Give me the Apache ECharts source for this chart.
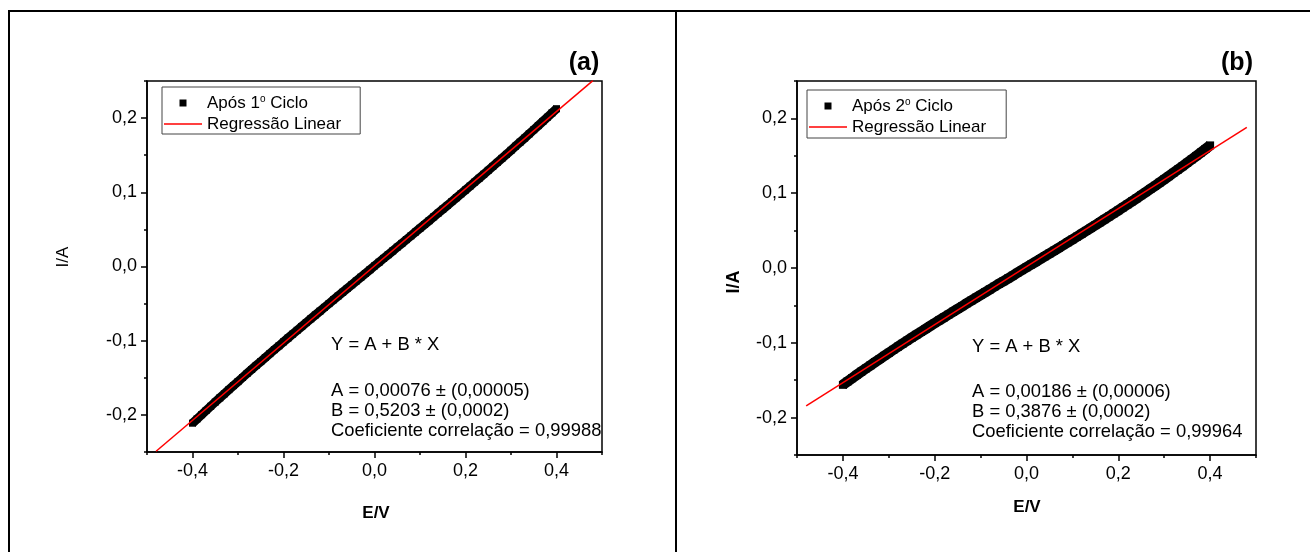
<!DOCTYPE html>
<html>
<head>
<meta charset="utf-8">
<script src="https://cdn.jsdelivr.net/npm/echarts@6/dist/echarts.min.js"></script>
<style>
  html, body { margin: 0; padding: 0; background: #fff; }
  #chart { width: 1310px; height: 552px; }
</style>
</head>
<body>
<div id="chart"></div>
<script>
// Potential sweep (V), shared by both cycles
const potential = [
  -0.40, -0.39, -0.38, -0.37, -0.36, -0.35, -0.34, -0.33, -0.32, -0.31,
  -0.30, -0.29, -0.28, -0.27, -0.26, -0.25, -0.24, -0.23, -0.22, -0.21,
  -0.20, -0.19, -0.18, -0.17, -0.16, -0.15, -0.14, -0.13, -0.12, -0.11,
  -0.10, -0.09, -0.08, -0.07, -0.06, -0.05, -0.04, -0.03, -0.02, -0.01,
   0.00,
   0.01,  0.02,  0.03,  0.04,  0.05,  0.06,  0.07,  0.08,  0.09,  0.10,
   0.11,  0.12,  0.13,  0.14,  0.15,  0.16,  0.17,  0.18,  0.19,  0.20,
   0.21,  0.22,  0.23,  0.24,  0.25,  0.26,  0.27,  0.28,  0.29,  0.30,
   0.31,  0.32,  0.33,  0.34,  0.35,  0.36,  0.37,  0.38,  0.39,  0.40
];

// Current (A) after the 1st cycle
const currentCycle1 = [
  -0.2112, -0.2054, -0.1997, -0.1940, -0.1884, -0.1827, -0.1771, -0.1716, -0.1660, -0.1605,
  -0.1551, -0.1496, -0.1442, -0.1388, -0.1334, -0.1281, -0.1227, -0.1174, -0.1121, -0.1069,
  -0.1016, -0.0964, -0.0912, -0.0860, -0.0808, -0.0756, -0.0705, -0.0653, -0.0602, -0.0551,
  -0.0500, -0.0449, -0.0398, -0.0347, -0.0296, -0.0246, -0.0195, -0.0144, -0.0094, -0.0043,
   0.0008,
   0.0058,  0.0109,  0.0159,  0.0210,  0.0261,  0.0311,  0.0362,  0.0413,  0.0464,  0.0515,
   0.0566,  0.0617,  0.0669,  0.0720,  0.0772,  0.0823,  0.0875,  0.0927,  0.0979,  0.1031,
   0.1084,  0.1137,  0.1189,  0.1243,  0.1296,  0.1349,  0.1403,  0.1457,  0.1511,  0.1566,
   0.1621,  0.1676,  0.1731,  0.1787,  0.1843,  0.1899,  0.1955,  0.2012,  0.2070,  0.2127
];

// Current (A) after the 2nd cycle
const currentCycle2 = [
  -0.1562, -0.1517, -0.1473, -0.1429, -0.1386, -0.1343, -0.1301, -0.1258, -0.1217, -0.1175,
  -0.1134, -0.1093, -0.1052, -0.1012, -0.0972, -0.0932, -0.0893, -0.0854, -0.0815, -0.0776,
  -0.0737, -0.0699, -0.0661, -0.0623, -0.0585, -0.0547, -0.0510, -0.0472, -0.0435, -0.0397,
  -0.0360, -0.0323, -0.0286, -0.0249, -0.0212, -0.0176, -0.0139, -0.0102, -0.0065, -0.0028,
   0.0009,
   0.0046,  0.0082,  0.0119,  0.0157,  0.0194,  0.0231,  0.0268,  0.0306,  0.0344,  0.0381,
   0.0419,  0.0457,  0.0496,  0.0534,  0.0573,  0.0612,  0.0651,  0.0690,  0.0730,  0.0769,
   0.0810,  0.0850,  0.0891,  0.0932,  0.0973,  0.1015,  0.1057,  0.1099,  0.1142,  0.1185,
   0.1228,  0.1272,  0.1316,  0.1361,  0.1406,  0.1452,  0.1498,  0.1544,  0.1591,  0.1639
];

// Linear regression Y = A + B * X for each cycle
const fitCycle1 = { A: 0.00076, B: 0.5203 };
const fitCycle2 = { A: 0.00186, B: 0.3876 };
const fitSpan = [-0.48, 0.48];

// Axis ticks
const xMajorTicks = [-0.4, -0.2, 0, 0.2, 0.4];
const xMinorTicks = [-0.5, -0.3, -0.1, 0.1, 0.3, 0.5];
const yMajorTicks = [-0.2, -0.1, 0, 0.1, 0.2];
const yMinorTicks = [-0.25, -0.15, -0.05, 0.05, 0.15, 0.25];

// Series names
const scatterName1 = 'Após 1º Ciclo';
const scatterName2 = 'Após 2º Ciclo';
const fitName = 'Regressão Linear';

const FONT = "'Liberation Sans', Arial, Helvetica, sans-serif";
const decimalComma = v => (Math.abs(v) < 1e-9 ? 0 : v).toFixed(1).replace('.', ',');

function axesFor(g) {
  const line = { color: '#000', width: 1.5 };
  const xMain = {
    type: 'value', gridIndex: g, min: -0.5, max: 0.5, position: 'bottom',
    axisLine: { show: true, onZero: false, lineStyle: line },
    axisTick: { show: true, inside: false, length: 6, customValues: xMajorTicks, lineStyle: line },
    axisLabel: { customValues: xMajorTicks, formatter: decimalComma, margin: 10,
                 color: '#000', fontSize: 18, fontFamily: FONT },
    splitLine: { show: false }
  };
  const xMinor = {
    type: 'value', gridIndex: g, min: -0.5, max: 0.5, position: 'bottom',
    axisLine: { show: false, onZero: false },
    axisTick: { show: true, inside: false, length: 3, customValues: xMinorTicks, lineStyle: line },
    axisLabel: { show: false }, splitLine: { show: false }
  };
  const yMain = {
    type: 'value', gridIndex: g, min: -0.25, max: 0.25, position: 'left',
    axisLine: { show: true, onZero: false, lineStyle: line },
    axisTick: { show: true, inside: false, length: 6, customValues: yMajorTicks, lineStyle: line },
    axisLabel: { customValues: yMajorTicks, formatter: decimalComma, margin: 10,
                 color: '#000', fontSize: 18, fontFamily: FONT },
    splitLine: { show: false }
  };
  const yMinor = {
    type: 'value', gridIndex: g, min: -0.25, max: 0.25, position: 'left',
    axisLine: { show: false, onZero: false },
    axisTick: { show: true, inside: false, length: 3, customValues: yMinorTicks, lineStyle: line },
    axisLabel: { show: false }, splitLine: { show: false }
  };
  return { x: [xMain, xMinor], y: [yMain, yMinor] };
}

const axes0 = axesFor(0);
const axes1 = axesFor(1);

function fitLine(fit) {
  return fitSpan.map(x => [x, fit.A + fit.B * x]);
}

// Measured points: dense square markers merged into a solid band
function measured(name, axisIndex, values, markerSize, bandWidth) {
  return {
    type: 'line', name: name, xAxisIndex: axisIndex, yAxisIndex: axisIndex,
    data: potential.map((x, i) => [x, values[i]]),
    symbol: 'rect', symbolSize: markerSize, showSymbol: true, showAllSymbol: true,
    itemStyle: { color: '#000', opacity: 1, borderWidth: 0 },
    lineStyle: { color: '#000', width: bandWidth, cap: 'butt', join: 'round' },
    silent: true, z: 2
  };
}

function legendFor(left, top, scatterName, padding) {
  return {
    orient: 'vertical', left: left, top: top,
    data: [
      { name: scatterName, icon: 'path://M0 0H10V10H0Z' },
      { name: fitName, icon: 'path://M0 0H76V3H0Z' }
    ],
    itemWidth: 38, itemHeight: 7, itemGap: 3,
    padding: padding,
    borderColor: '#444', borderWidth: 1, borderRadius: 0,
    backgroundColor: '#fff',
    selectedMode: false,
    formatter: name => name.replace('º', '{sup|o}'),
    textStyle: {
      fontSize: 17, color: '#000', fontFamily: FONT, lineHeight: 18,
      rich: { sup: { fontSize: 10, lineHeight: 10, verticalAlign: 'top', fontFamily: FONT, color: '#000' } }
    }
  };
}

function text(str, x, y, opts) {
  return {
    type: 'text', x: x, y: y, silent: true,
    style: Object.assign({
      text: str, fill: '#000', fontSize: 18.4, fontFamily: FONT,
      textAlign: 'left', textVerticalAlign: 'middle'
    }, opts || {})
  };
}

function rotated(str, x, y, opts) {
  const t = text(str, x, y, Object.assign({ textAlign: 'center' }, opts));
  t.rotation = Math.PI / 2;
  return t;
}

function frameLine(x1, y1, x2, y2) {
  return { type: 'line', silent: true, shape: { x1, y1, x2, y2 },
           style: { stroke: '#000', lineWidth: 2 } };
}

const option = {
  animation: false,
  backgroundColor: '#fff',
  grid: [
    { left: 147, top: 81, width: 455, height: 371, show: true,
      borderColor: '#000', borderWidth: 1.5, backgroundColor: 'transparent', outerBoundsMode: 'none' },
    { left: 797, top: 81, width: 459, height: 374, show: true,
      borderColor: '#000', borderWidth: 1.5, backgroundColor: 'transparent', outerBoundsMode: 'none' }
  ],
  xAxis: [].concat(axes0.x, axes1.x),
  yAxis: [].concat(axes0.y, axes1.y),
  legend: [
    legendFor(162, 87, scatterName1, [7, 19, 1, 2]),
    legendFor(807, 90, scatterName2, [7, 20, 2, 2])
  ],
  series: [
    measured(scatterName1, 0, currentCycle1, 7, 9),
    { type: 'line', name: fitName, xAxisIndex: 0, yAxisIndex: 0,
      data: fitLine(fitCycle1), symbol: 'none', showSymbol: false,
      lineStyle: { color: '#ff0000', width: 1.5 }, itemStyle: { color: '#ff0000' }, silent: true, z: 3 },
    measured(scatterName2, 2, currentCycle2, 8, 10.5),
    { type: 'line', name: fitName, xAxisIndex: 2, yAxisIndex: 2,
      data: fitLine(fitCycle2), symbol: 'none', showSymbol: false,
      lineStyle: { color: '#ff0000', width: 1.5 }, itemStyle: { color: '#ff0000' }, silent: true, z: 3 }
  ],
  graphic: [
    // table frame around both panels
    frameLine(8, 11, 1310, 11),
    frameLine(9, 11, 9, 552),
    frameLine(676, 11, 676, 552),
    // panel tags
    text('(a)', 584, 63, { textAlign: 'center', fontSize: 25, fontWeight: 'bold' }),
    text('(b)', 1237, 63, { textAlign: 'center', fontSize: 25, fontWeight: 'bold' }),
    // axis titles
    text('E/V', 376, 513, { textAlign: 'center', fontSize: 17, fontWeight: 'bold' }),
    text('E/V', 1027, 507, { textAlign: 'center', fontSize: 17, fontWeight: 'bold' }),
    rotated('I/A', 63, 257, { fontSize: 17 }),
    rotated('I/A', 734, 282, { fontSize: 18, fontWeight: 'bold' }),
    // regression summary, panel (a)
    text('Y = A + B * X', 331, 345),
    text('A = 0,00076 ± (0,00005)', 331, 391),
    text('B = 0,5203 ± (0,0002)', 331, 411),
    text('Coeficiente correlação = 0,99988', 331, 431),
    // regression summary, panel (b)
    text('Y = A + B * X', 972, 347),
    text('A = 0,00186 ± (0,00006)', 972, 391.5),
    text('B = 0,3876 ± (0,0002)', 972, 411.5),
    text('Coeficiente correlação = 0,99964', 972, 431.5)
  ]
};

const chart = echarts.init(document.getElementById('chart'), null, { renderer: 'canvas' });
chart.setOption(option);
</script>
</body>
</html>
